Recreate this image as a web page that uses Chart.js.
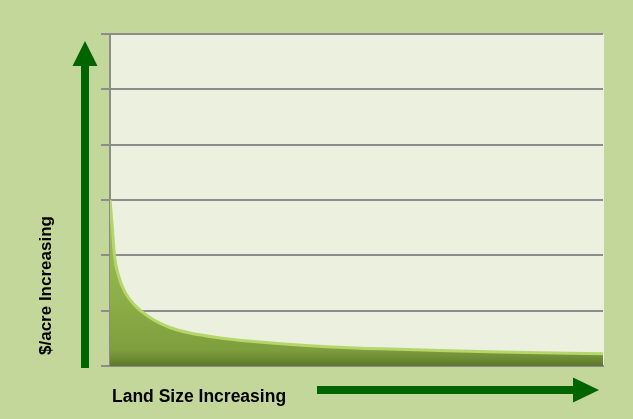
<!DOCTYPE html>
<html>
<head>
<meta charset="utf-8">
<script src="https://cdn.jsdelivr.net/npm/chart.js@4"></script>
<style>
  html, body { margin: 0; padding: 0; background: #c4d79b; }
  canvas { display: block; }
</style>
</head>
<body>
<canvas id="landChart" width="633" height="419"></canvas>
<script>
// valores (x: tamanho da terra, y: $/acre)
const landSize = [0, 0.5, 0.9, 1.7, 3, 5, 8, 12, 16, 22, 28, 34, 44, 55, 67, 79, 100];
const pricePerAcre = [3.0, 2.48, 2.0, 1.64, 1.34, 1.1, 0.88, 0.7, 0.6, 0.51, 0.45, 0.405, 0.35, 0.31, 0.28, 0.255, 0.22];
const yTicks = [0, 1, 2, 3, 4, 5, 6];
const xLabel = 'Land Size Increasing';
const yLabel = '$/acre Increasing';

const points = landSize.map((x, i) => ({ x: x, y: pricePerAcre[i] }));

// fundo da figura e da área do gráfico
const backgroundPlugin = {
    id: 'backgrounds',
    beforeDraw(chart) {
        const { ctx, chartArea } = chart;
        ctx.save();
        ctx.fillStyle = '#c4d79b';
        ctx.fillRect(0, 0, chart.width, chart.height);
        ctx.fillStyle = '#ebf1de';
        ctx.fillRect(chartArea.left, chartArea.top, chartArea.right - chartArea.left + 1, chartArea.bottom - chartArea.top);
        ctx.restore();
    }
};

// setas verdes e os títulos dos eixos
const arrowsPlugin = {
    id: 'arrows',
    afterDraw(chart) {
        const { ctx, chartArea } = chart;
        const green = '#006400';
        ctx.save();
        ctx.fillStyle = green;

        // seta vertical
        const ax = chartArea.left - 25;
        ctx.fillRect(ax - 4, chartArea.top + 32, 8, chartArea.bottom + 2 - (chartArea.top + 32));
        ctx.beginPath();
        ctx.moveTo(ax, chartArea.top + 7);
        ctx.lineTo(ax + 12.5, chartArea.top + 32);
        ctx.lineTo(ax - 12.5, chartArea.top + 32);
        ctx.closePath();
        ctx.fill();

        // seta horizontal
        const ay = chartArea.bottom + 24;
        ctx.fillRect(317, ay - 4, chartArea.right - 30 - 317, 8);
        ctx.beginPath();
        ctx.moveTo(chartArea.right - 4, ay);
        ctx.lineTo(chartArea.right - 30, ay - 12.5);
        ctx.lineTo(chartArea.right - 30, ay + 12.5);
        ctx.closePath();
        ctx.fill();

        // textos
        ctx.fillStyle = '#000000';
        ctx.font = 'bold 17.5px "Liberation Sans", Arial, sans-serif';
        ctx.textBaseline = 'alphabetic';
        ctx.textAlign = 'left';
        ctx.fillText(xLabel, chartArea.left + 2, chartArea.bottom + 36);

        ctx.font = 'bold 17px "Liberation Sans", Arial, sans-serif';
        ctx.translate(51, chartArea.bottom - 11);
        ctx.rotate(-Math.PI / 2);
        ctx.fillText(yLabel, 0, 0);
        ctx.restore();
    }
};

const ctx = document.getElementById('landChart').getContext('2d');
new Chart(ctx, {
    type: 'line',
    data: {
        datasets: [{
            data: points,
            fill: 'origin',
            cubicInterpolationMode: 'monotone',
            pointRadius: 0,
            borderWidth: 3,
            borderColor: '#b4d66a',
            backgroundColor: (context) => {
                const chart = context.chart;
                const { chartArea, scales } = chart;
                if (!chartArea) return '#8eae4a';
                const top = scales.y.getPixelForValue(3);
                const bottom = scales.y.getPixelForValue(0);
                const g = chart.ctx.createLinearGradient(0, top, 0, bottom);
                g.addColorStop(0, '#a3c35a');
                g.addColorStop(0.6, '#8dad48');
                g.addColorStop(0.9, '#7f9f3e');
                g.addColorStop(0.96, '#6c8a33');
                g.addColorStop(1, '#5b7629');
                return g;
            }
        }]
    },
    options: {
        responsive: false,
        animation: false,
        events: [],
        layout: { padding: { left: 101, right: 30, top: 34, bottom: 53 } },
        plugins: {
            legend: { display: false },
            tooltip: { enabled: false }
        },
        scales: {
            x: {
                type: 'linear',
                min: landSize[0],
                max: landSize[landSize.length - 1],
                ticks: { display: false },
                grid: { display: false, drawTicks: false },
                border: { display: true, color: '#8c8c8c', width: 2 }
            },
            y: {
                min: yTicks[0],
                max: yTicks[yTicks.length - 1],
                afterBuildTicks: (scale) => { scale.ticks = yTicks.map(v => ({ value: v })); },
                ticks: { display: false },
                grid: { color: '#8c8c8c', lineWidth: 2, drawTicks: true, tickLength: 9 },
                border: { display: true, color: '#8c8c8c', width: 2 }
            }
        }
    },
    plugins: [backgroundPlugin, arrowsPlugin]
});
</script>
</body>
</html>
